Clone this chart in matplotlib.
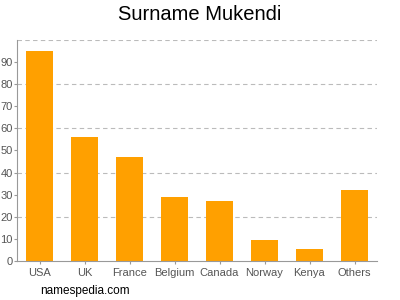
import matplotlib.pyplot as plt

countries = ["USA", "UK", "France", "Belgium", "Canada", "Norway", "Kenya", "Others"]
counts = [95, 56, 47, 29, 27, 9.5, 5.5, 32]
yticks = list(range(0, 100, 10))

plt.rcParams['font.family'] = ['Liberation Sans', 'DejaVu Sans']

fig = plt.figure(figsize=(4, 3), dpi=100)
ax = fig.add_axes([0.0425, 0.13, 0.9, 0.737])

ax.bar(range(len(countries)), counts, width=0.62, color='#ffa000', zorder=2)

ax.set_xlim(-0.5, len(countries) - 0.5)
ax.set_ylim(0, 100)
ax.set_yticks(yticks)
ax.set_xticks(range(len(countries)))
ax.set_xticklabels(countries)

for y in range(20, 101, 20):
    ax.axhline(y, color='#bbbbbb', linestyle=(0, (4, 3)), linewidth=0.8, zorder=1)

for s in ['top', 'right']:
    ax.spines[s].set_visible(False)
for s in ['left', 'bottom']:
    ax.spines[s].set_color('#999999')
ax.tick_params(colors='#999999', labelcolor='#555555', labelsize=8, length=2)
ax.tick_params(axis='y', pad=1)
ax.tick_params(axis='x', pad=3)

fig.text(0.5, 0.95, "Surname Mukendi", ha='center', va='center', fontsize=14.5)
fig.text(0.1, 0.03, "namespedia.com", ha='left', va='center', fontsize=8.5)

fig.savefig('out.png', dpi=100)
